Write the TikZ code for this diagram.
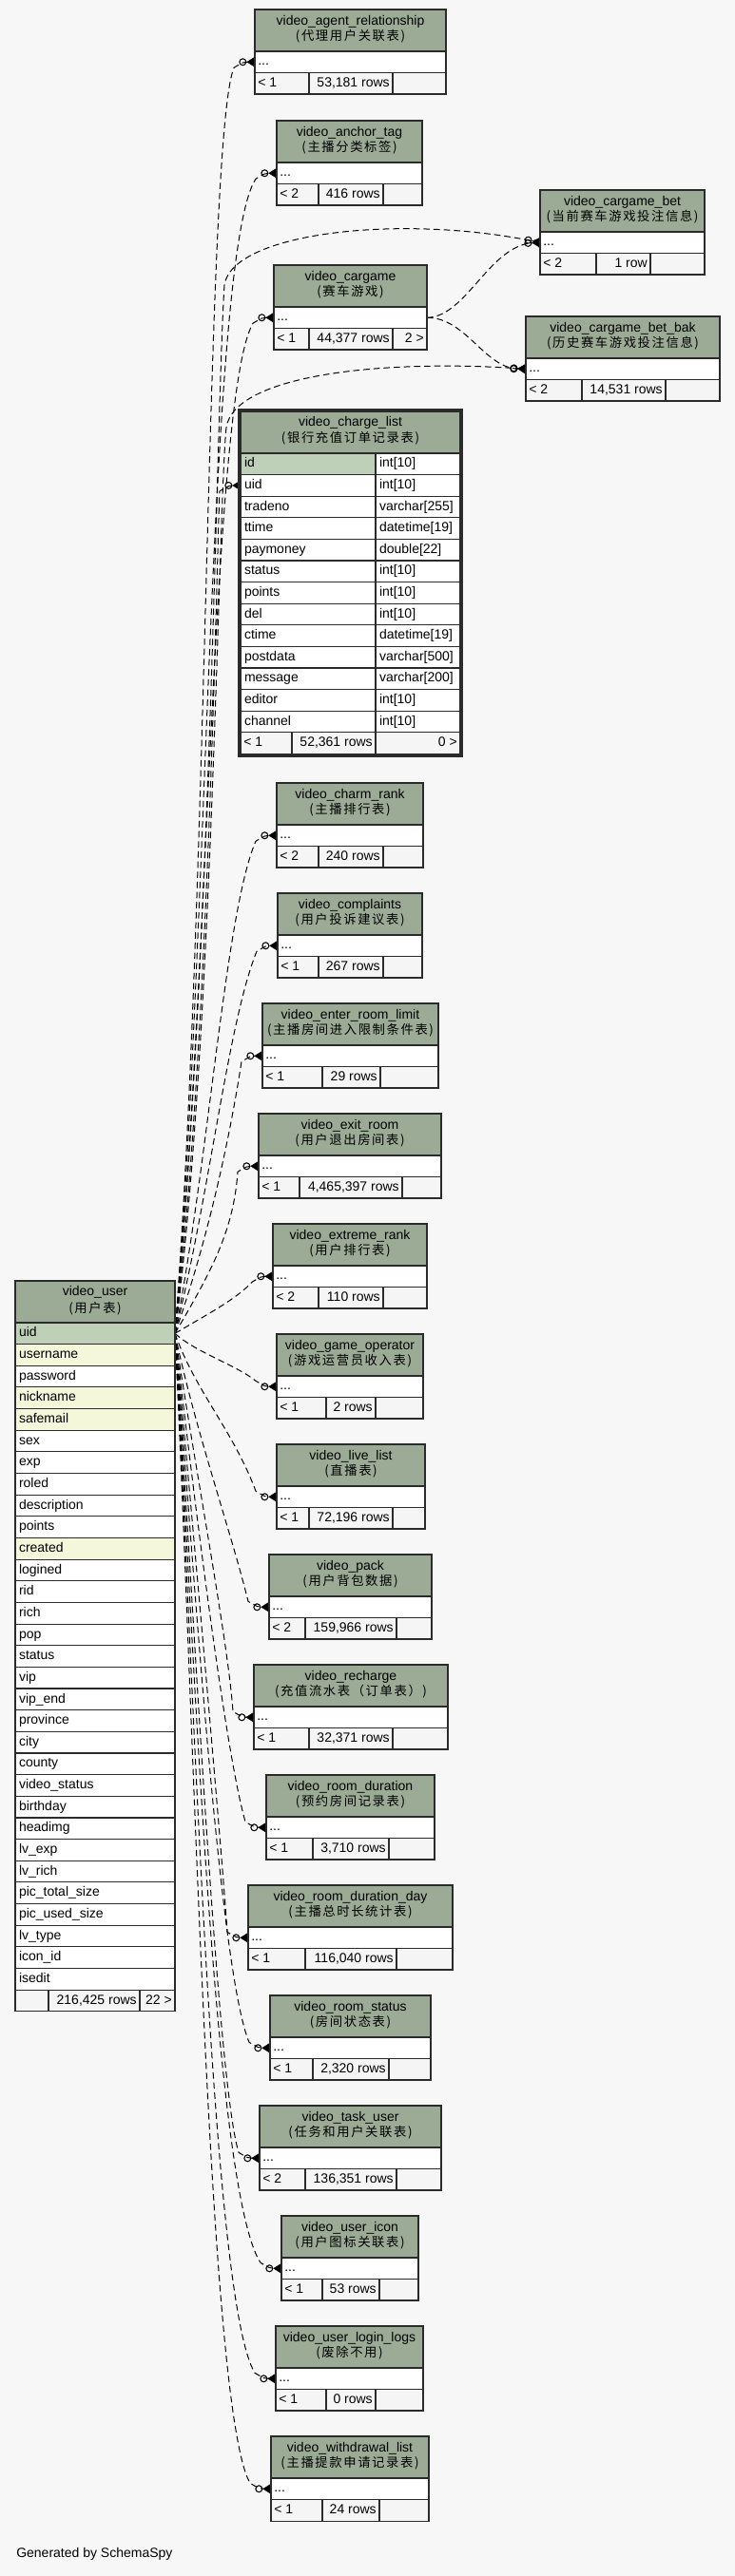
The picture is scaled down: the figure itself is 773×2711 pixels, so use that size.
\documentclass[tikz,border=0pt]{standalone}
\usepackage{fontspec}
\setmainfont{Liberation Sans}
\newfontfamily\cjkf{Noto Sans CJK SC}[LetterSpace=12]
\usetikzlibrary{arrows.meta}
\definecolor{bgc}{HTML}{F7F7F7}
\definecolor{hdr}{HTML}{9BAB96}
\definecolor{pk}{HTML}{BED1B8}
\definecolor{idx}{HTML}{F4F7DA}
\definecolor{foot}{HTML}{F5F5F5}
\definecolor{bord}{HTML}{2B2B2B}
\pgfdeclarelayer{bgl}
\pgfdeclarelayer{edges}
\pgfsetlayers{bgl,edges,main}
\tikzset{
  cell/.style={draw=bord, line width=0.8pt},
  tname/.style={font=\fontsize{10.5}{12}\selectfont, inner sep=0pt},
  tcjk/.style={font=\cjkf\fontsize{10}{11}\selectfont, inner sep=0pt},
  ctext/.style={font=\fontsize{10.5}{12}\selectfont, inner sep=0pt, text height=7.5pt, text depth=2pt},
  rowbox/.style={draw=bord, line width=0.8pt, fill=white, inner sep=0pt, outer sep=0pt, anchor=north west, minimum height=16.875pt},
  urow/.style={draw=bord, line width=0.8pt, anchor=north west, inner xsep=3pt, inner ysep=0pt, outer sep=0pt,
     text width=#1, align=left, minimum height=16.95pt, text height=7.5pt, text depth=2pt, font=\fontsize{10.5}{12}\selectfont},
  fk/.style={draw=black, line width=0.75pt, dash pattern=on 5pt off 3pt,
     -{Circle[open,length=6pt,line width=0.8pt] Triangle[reversed,length=6.5pt,width=8pt]}},
}
% table header + "..." row: id, x1, x2, ytop, name, cjk
\newcommand\tblhead[6]{%
  \draw[cell, fill=hdr] (#2,#4) rectangle (#3,#4+44);
  \node[tname] (#1-name) at ({(#2+#3)/2},#4+12.5) {#5};
  \node[tcjk] (#1-cjk) at ({(#2+#3)/2},#4+28.5) {#6};
  \node[rowbox, minimum width={(#3-#2)*0.75pt}] (#1) at (#2,#4+44) {};
  \node[ctext, anchor=west] (#1-dots) at (#2+3,#4+55.25) {...};
}
% footer: id, x1, x2, ytop, d1, d2, left, rows, right
\newcommand\tblfoot[9]{%
  \draw[cell, fill=foot] (#2,#4+66.5) rectangle (#5,#4+89);
  \draw[cell, fill=foot] (#5,#4+66.5) rectangle (#6,#4+89);
  \draw[cell, fill=foot] (#6,#4+66.5) rectangle (#3,#4+89);
  \node[ctext, anchor=west] (#1-fl) at (#2+3,#4+77.75) {#7};
  \node[ctext, anchor=east] (#1-fc) at (#6-3,#4+77.75) {#8};
  \node[ctext, anchor=east] (#1-fr) at (#3-3,#4+77.75) {#9};
}
\newcommand\fkup[3]{%
  \begin{pgfonlayer}{edges}
  \draw[fk] (user-r1.east) .. controls (220,{1403-0.35*(1403-#3)}) and ({250-0.025*(1403-#3)},{#3+min(80,0.4*(1403-#3))}) .. (#2-22,#3+6) .. controls (#2-12,#3) .. (#1.west);
  \end{pgfonlayer}}
\newcommand\fkdn[3]{%
  \begin{pgfonlayer}{edges}
  \draw[fk] (user-r1.east) .. controls (205,{1403+0.35*(#3-1403)}) and ({250-0.025*(#3-1403)},{#3-min(80,0.4*(#3-1403))}) .. (#2-22,#3-6) .. controls (#2-12,#3) .. (#1.west);
  \end{pgfonlayer}}

\begin{document}
\begin{tikzpicture}[x=0.75pt,y=-0.75pt]
\begin{pgfonlayer}{bgl}
\fill[bgc] (0,0) rectangle (773,2711);
\end{pgfonlayer}
\useasboundingbox (0,0) rectangle (773,2711);

% ---- collapsed tables
\tblhead{agent}{268}{469}{10}{video\_agent\_relationship}{(代理用户关联表)}
\tblfoot{agent}{268}{469}{10}{325}{413}{< 1}{53,181 rows}{}
\tblhead{anchor}{291}{444}{127}{video\_anchor\_tag}{(主播分类标签)}
\tblfoot{anchor}{291}{444}{127}{335}{403}{< 2}{416 rows}{}
\tblhead{bet}{568}{741}{200}{video\_cargame\_bet}{(当前赛车游戏投注信息)}
\tblfoot{bet}{568}{741}{200}{627}{684}{< 2}{1 row}{}
\tblhead{cargame}{288}{449}{279}{video\_cargame}{(赛车游戏)}
\tblfoot{cargame}{288}{449}{279}{325}{413}{< 1}{44,377 rows}{2 >}
\tblhead{betbak}{553}{757}{333}{video\_cargame\_bet\_bak}{(历史赛车游戏投注信息)}
\tblfoot{betbak}{553}{757}{333}{612}{700}{< 2}{14,531 rows}{}
\tblhead{charm}{291}{445}{824}{video\_charm\_rank}{(主播排行表)}
\tblfoot{charm}{291}{445}{824}{335}{403}{< 2}{240 rows}{}
\tblhead{complaints}{292}{444}{940}{video\_complaints}{(用户投诉建议表)}
\tblfoot{complaints}{292}{444}{940}{335}{403}{< 1}{267 rows}{}
\tblhead{enter}{276}{461}{1056}{video\_enter\_room\_limit}{(主播房间进入限制条件表)}
\tblfoot{enter}{276}{461}{1056}{339}{400}{< 1}{29 rows}{}
\tblhead{exit}{272}{464}{1172}{video\_exit\_room}{(用户退出房间表)}
\tblfoot{exit}{272}{464}{1172}{315}{423}{< 1}{4,465,397 rows}{}
\tblhead{extreme}{287}{449}{1288}{video\_extreme\_rank}{(用户排行表)}
\tblfoot{extreme}{287}{449}{1288}{335}{403}{< 2}{110 rows}{}
\tblhead{gameop}{291}{445}{1404}{video\_game\_operator}{(游戏运营员收入表)}
\tblfoot{gameop}{291}{445}{1404}{343}{395}{< 1}{2 rows}{}
\tblhead{live}{291}{447}{1520}{video\_live\_list}{(直播表)}
\tblfoot{live}{291}{447}{1520}{325}{413}{< 1}{72,196 rows}{}
\tblhead{pack}{283}{454}{1636}{video\_pack}{(用户背包数据)}
\tblfoot{pack}{283}{454}{1636}{321}{417}{< 2}{159,966 rows}{}
\tblhead{recharge}{267}{471}{1752}{video\_recharge}{(充值流水表（订单表）)}
\tblfoot{recharge}{267}{471}{1752}{325}{413}{< 1}{32,371 rows}{}
\tblhead{roomdur}{280}{457}{1868}{video\_room\_duration}{(预约房间记录表)}
\tblfoot{roomdur}{280}{457}{1868}{329}{409}{< 1}{3,710 rows}{}
\tblhead{roomday}{261}{476}{1984}{video\_room\_duration\_day}{(主播总时长统计表)}
\tblfoot{roomday}{261}{476}{1984}{321}{417}{< 1}{116,040 rows}{}
\tblhead{roomstatus}{284}{453}{2100}{video\_room\_status}{(房间状态表)}
\tblfoot{roomstatus}{284}{453}{2100}{329}{409}{< 1}{2,320 rows}{}
\tblhead{task}{273}{464}{2216}{video\_task\_user}{(任务和用户关联表)}
\tblfoot{task}{273}{464}{2216}{321}{417}{< 2}{136,351 rows}{}
\tblhead{icon}{296}{440}{2332}{video\_user\_icon}{(用户图标关联表)}
\tblfoot{icon}{296}{440}{2332}{339}{399}{< 1}{53 rows}{}
\tblhead{login}{290}{445}{2448}{video\_user\_login\_logs}{(废除不用)}
\tblfoot{login}{290}{445}{2448}{343}{395}{< 1}{0 rows}{}
\tblhead{withdraw}{285}{451}{2564}{video\_withdrawal\_list}{(主播提款申请记录表)}
\tblfoot{withdraw}{285}{451}{2564}{339}{399}{< 1}{24 rows}{}

% ---- video_charge_list (focused table)
\draw[draw=bord, line width=2.25pt] (251.5,431.5) rectangle (485,795.5);
\draw[cell, fill=hdr] (253,433) rectangle (484,477);
\node[tname] (cl-name) at (368.5,444.5) {video\_charge\_list};
\node[tcjk] (cl-cjk) at (368.5,461) {(银行充值订单记录表)};
\foreach [count=\i] \a/\b/\c in {id/int[10]/pk, uid/int[10]/white, tradeno/varchar[255]/white,
  ttime/datetime[19]/white, paymoney/double[22]/white, status/int[10]/white, points/int[10]/white,
  del/int[10]/white, ctime/datetime[19]/white, postdata/varchar[500]/white, message/varchar[200]/white,
  editor/int[10]/white, channel/int[10]/white}{
  \node[urow=100.5pt, fill=\c] (cl-r\i) at (253,{477+(\i-1)*22.6}) {\a};
  \node[urow=60.75pt, fill=white] (cl-t\i) at (395,{477+(\i-1)*22.6}) {\b};
}
\draw[cell, fill=foot] (253,770.8) rectangle (307,793.4);
\draw[cell, fill=foot] (307,770.8) rectangle (395,793.4);
\draw[cell, fill=foot] (395,770.8) rectangle (484,793.4);
\node[ctext, anchor=west] (cl-fl) at (256,782.1) {< 1};
\node[ctext, anchor=east] (cl-fc) at (392,782.1) {52,361 rows};
\node[ctext, anchor=east] (cl-fr) at (481,782.1) {0 >};

% ---- video_user
\draw[cell, fill=hdr] (16,1348) rectangle (184,1392);
\node[tname] (user-name) at (100,1360) {video\_user};
\node[tcjk] (user-cjk) at (100,1377) {(用户表)};
\foreach [count=\i] \a/\c in {uid/pk, username/idx, password/white, nickname/idx, safemail/idx,
  sex/white, exp/white, roled/white, description/white, points/white, created/idx, logined/white,
  rid/white, rich/white, pop/white, status/white, vip/white, vip\_end/white, province/white,
  city/white, county/white, video\_status/white, birthday/white, headimg/white, lv\_exp/white,
  lv\_rich/white, pic\_total\_size/white, pic\_used\_size/white, lv\_type/white, icon\_id/white,
  isedit/white}{
  \node[urow=120pt, fill=\c] (user-r\i) at (16,{1392+(\i-1)*22.65}) {\a};
}
\draw[cell, fill=foot] (16,2094.15) rectangle (51,2116.8);
\draw[cell, fill=foot] (51,2094.15) rectangle (147,2116.8);
\draw[cell, fill=foot] (147,2094.15) rectangle (184,2116.8);
\node[ctext, anchor=east] (user-fc) at (144,2105.5) {216,425 rows};
\node[ctext, anchor=east] (user-fr) at (181,2105.5) {22 >};

\node[tname, anchor=west] (footer) at (17,2688) {Generated by SchemaSpy};

% ---- relationships
\fkup{agent}{268}{65.25}
\fkup{anchor}{291}{182.25}
\fkup{cargame}{288}{334.25}
\fkup{cl-r2}{253}{510.9}
\fkup{charm}{291}{879.25}
\fkup{complaints}{292}{995.25}
\fkup{enter}{276}{1111.25}
\fkup{exit}{272}{1227.25}
\fkup{extreme}{287}{1343.25}
\fkdn{gameop}{291}{1459.25}
\fkdn{live}{291}{1575.25}
\fkdn{pack}{283}{1691.25}
\fkdn{recharge}{267}{1807.25}
\fkdn{roomdur}{280}{1923.25}
\fkdn{roomday}{261}{2039.25}
\fkdn{roomstatus}{284}{2155.25}
\fkdn{task}{273}{2271.25}
\fkdn{icon}{296}{2387.25}
\fkdn{login}{290}{2503.25}
\fkdn{withdraw}{285}{2619.25}
\begin{pgfonlayer}{edges}
\draw[fk] (user-r1.east) .. controls (222,1000) and (228,420) .. (236,300) .. controls (244,245) and (420,225) .. (bet.west);
\draw[fk] (user-r1.east) .. controls (224,1100) and (230,520) .. (238,450) .. controls (246,395) and (400,378) .. (betbak.west);
\draw[fk] (cargame.east) .. controls (490,334) and (515,258) .. (bet.west);
\draw[fk] (cargame.east) .. controls (490,334) and (510,388) .. (betbak.west);
\end{pgfonlayer}
\end{tikzpicture}
\end{document}
